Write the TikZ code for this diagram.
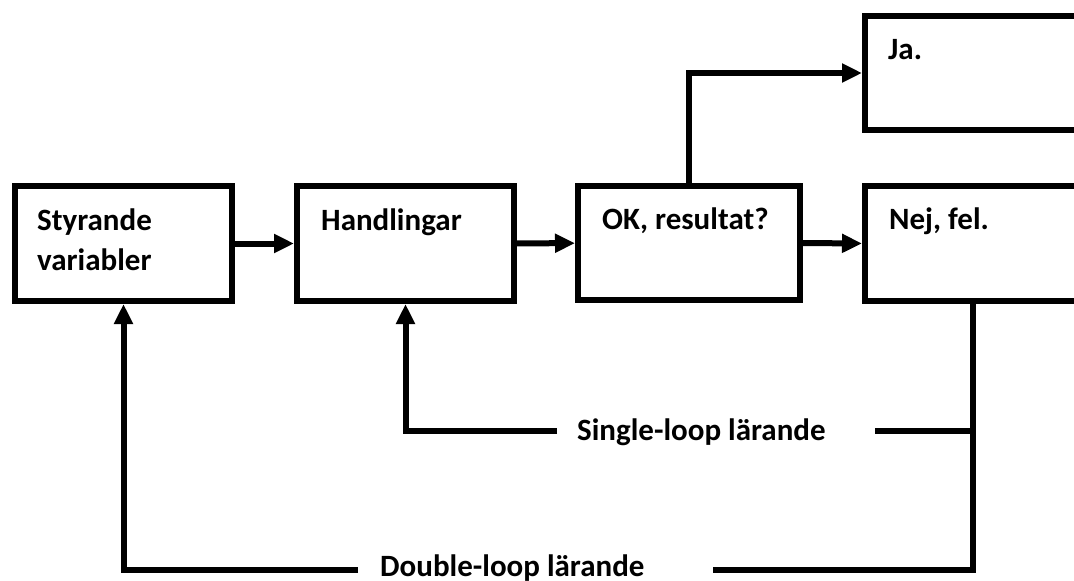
\documentclass[tikz,border=0pt]{standalone}
\usepackage{fontspec}
\setmainfont{Carlito}
\usetikzlibrary{arrows.meta}
\begin{document}
\begin{tikzpicture}[x=1pt, y=-1pt, >={Triangle[length=20pt,width=18pt]},
	font=\fontsize{31}{40}\selectfont\bfseries,
	box/.style={draw, line width=6pt, minimum width=217pt, minimum height=115pt, inner sep=0pt},
	lbl/.style={anchor=base west, inner sep=0pt, align=left},
	line/.style={line width=6pt}]
		\useasboundingbox (0,0) rectangle (1074,581);
		\clip (0,0) rectangle (1074,581);
		% boxes
		\node[box] (sty) at (123.5,243.5) {};
		\node[box] (hand) at (405.5,243.5) {};
		\node[box, minimum width=222pt, minimum height=114pt] (ok) at (689,243) {};
		\node[box, minimum width=260pt] (nej) at (995,243.5) {};
		\node[box, minimum width=260pt, minimum height=114pt] (ja) at (995,73) {};
		% texts
		\node[lbl] (styT) at (37,270) {Styrande\\variabler};
		\node[lbl] (handT) at (321,230) {Handlingar};
		\node[lbl] (okT) at (602,229) {OK, resultat?};
		\node[lbl] (nejT) at (889,229) {Nej, fel.};
		\node[lbl] (jaT) at (888,59) {Ja.};
		\node[lbl] (slT) at (577,440) {Single-loop lärande};
		\node[lbl] (dlT) at (380,576) {Double-loop lärande};
		% forward
		\draw[line,->] (sty) -- (hand);
		\draw[line,->] (hand) -- (ok);
		\draw[line,->] (ok.east) -- (nej.west);
		\draw[line,->] (ok.north) |- (ja.west);
		% feedback
		\coordinate (slR) at (973,431);
		\coordinate (slA) at (875,431);
		\coordinate (slB) at (557,431);
		\coordinate (dlR) at (973,570);
		\coordinate (dlA) at (713,570);
		\coordinate (dlB) at (358,570);
		\draw[line] (nej.south -| dlR) -- (dlR) -- (dlA);
		\draw[line] (slR) -- (slA);
		\draw[line,->] (slB) -| (hand.south);
		\draw[line,->] (dlB) -| (sty.south);
	\end{tikzpicture}
\end{document}
